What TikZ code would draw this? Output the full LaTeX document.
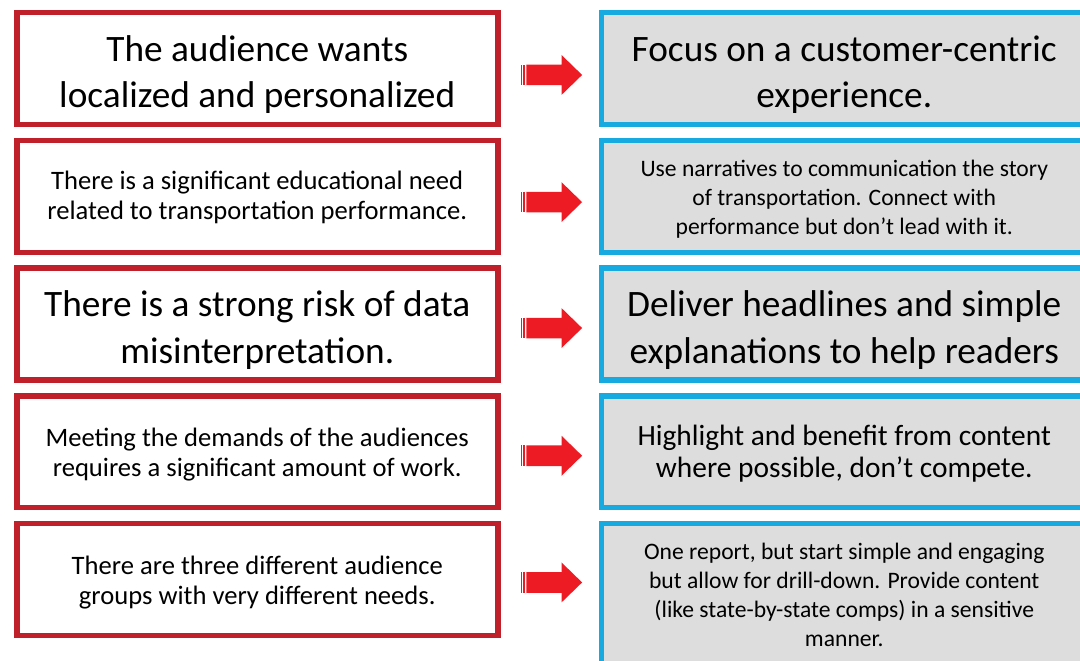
\documentclass[tikz,border=0pt]{standalone}
\usepackage{fontspec}
\setmainfont{Carlito}
\usetikzlibrary{positioning, calc}
\definecolor{boxred}{RGB}{192,32,42}
\definecolor{boxblue}{RGB}{22,170,225}
\definecolor{boxgray}{RGB}{221,221,221}
\definecolor{arrowred}{RGB}{237,28,36}
\newcommand{\lift}[1]{\rule{0pt}{#1}}

\begin{document}
\begin{tikzpicture}[
    x=1pt, y=1pt,
    node distance=10.4pt,
    need/.style={rectangle, draw=boxred, line width=5.5pt, fill=white, minimum width=481pt, minimum height=111.8pt, inner sep=0pt, align=center},
    plan/.style={rectangle, draw=boxblue, line width=5.5pt, fill=boxgray, minimum width=486pt, minimum height=111.8pt, inner sep=0pt, align=center},
    headline/.style={font=\fontsize{37.3pt}{46.5pt}\selectfont},
    plain/.style={font=\fontsize{26.6pt}{30pt}\selectfont},
    mid/.style={font=\fontsize{29.4pt}{32.5pt}\selectfont},
    note/.style={font=\fontsize{23.6pt}{29pt}\selectfont},
    stripe/.style={fill=arrowred}
]
    \useasboundingbox (0,0) rectangle (1080,-661);
    \clip (0,0) rectangle (1080,-661);

    % what the audience needs
    \node [need, headline, anchor=north west] (l1) at (14,-10) {\lift{37.5pt}The audience wants\\localized and personalized};
    \node [need, plain, below=of l1] (l2) {\lift{20pt}There is a significant educational need\\related to transportation performance.};
    \node [need, headline, below=of l2] (l3) {\lift{37.5pt}There is a strong risk of data\\misinterpretation.};
    \node [need, plain, below=of l3] (l4) {\lift{24pt}Meeting the demands of the audiences\\requires a significant amount of work.};
    \node [need, plain, below=of l4] (l5) {\lift{24pt}There are three different audience\\groups with very different needs.};

    % what we do about it
    \node [plan, headline, right=98pt of l1] (r1) {\lift{37.5pt}Focus on a customer-centric\\experience.};
    \node [plan, note, below=of r1] (r2) {\lift{22.3pt}Use narratives to communication the story\\of transportation. Connect with\\performance but don’t lead with it.};
    \node [plan, headline, below=of r2] (r3) {\lift{37.5pt}Deliver headlines and simple\\explanations to help readers};
    \node [plan, mid, below=of r3] (r4) {\lift{24pt}Highlight and benefit from content\\where possible, don’t compete.};
    \node [plan, note, below=of r4, minimum height=140.5pt] (r5) {\lift{18.3pt}One report, but start simple and engaging\\but allow for drill-down. Provide content\\(like state-by-state comps) in a sensitive\\manner.};

    % striped arrows
    \foreach \i/\dy in {1/6.3, 2/5.8, 3/4, 4/4, 5/3} {
        \begin{scope}[shift={($(l\i.east)+(0,-\dy)$)}]
            \fill [stripe] (20.3,-10.3) rectangle (21.8,10.3);
            \fill [stripe] (22.8,-10.3) rectangle (24.8,10.3);
            \fill [stripe] (25.8,-10.3) -- (61,-10.3) -- (61,-20) -- (81.6,0) -- (61,20) -- (61,10.3) -- (25.8,10.3) -- cycle;
        \end{scope}
    }
\end{tikzpicture}
\end{document}
